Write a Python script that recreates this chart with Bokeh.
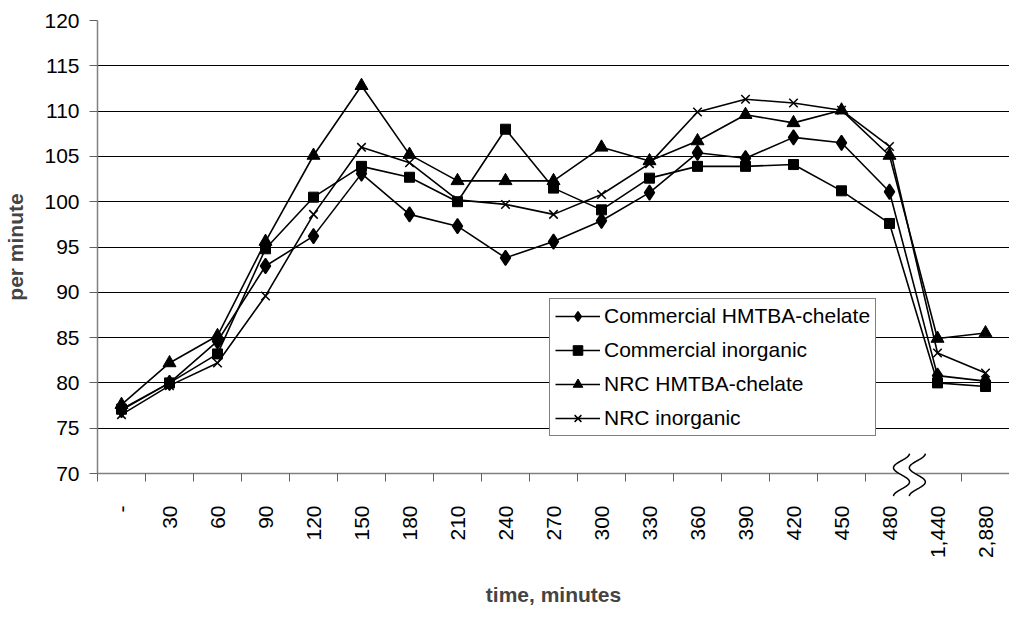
import numpy as np
from bokeh.plotting import figure
from bokeh.models import Range1d, FixedTicker, Legend, LegendItem
from bokeh.embed import file_html
from bokeh.resources import INLINE

# ---------------- data ----------------
categories = ["-", "30", "60", "90", "120", "150", "180", "210", "240", "270",
              "300", "330", "360", "390", "420", "450", "480", "1,440", "2,880"]

commercial_hmtba = [77.0, 80.0, 84.6, 92.9, 96.2, 103.1, 98.6, 97.3, 93.8, 95.6,
                    97.9, 101.0, 105.4, 104.8, 107.1, 106.5, 101.1, 80.8, 80.2]
commercial_inorganic = [77.1, 80.0, 83.2, 94.8, 100.5, 103.9, 102.7, 100.0, 108.0, 101.5,
                        99.1, 102.6, 103.9, 103.9, 104.1, 101.2, 97.6, 80.0, 79.6]
nrc_hmtba = [77.6, 82.2, 85.2, 95.6, 105.1, 112.8, 105.2, 102.3, 102.3, 102.3,
             106.0, 104.5, 106.7, 109.6, 108.7, 110.1, 105.1, 84.9, 85.5]
nrc_inorganic = [76.5, 79.7, 82.2, 89.6, 98.6, 106.0, 104.3, 100.2, 99.7, 98.6,
                 100.8, 104.2, 109.9, 111.3, 110.9, 110.1, 106.1, 83.3, 81.1]

series_names = ["Commercial HMTBA-chelate", "Commercial inorganic",
                "NRC HMTBA-chelate", "NRC inorganic"]
y_ticks = [70, 75, 80, 85, 90, 95, 100, 105, 110, 115, 120]
x_title = "time, minutes"
y_title = "per minute"

# ---------------- figure ----------------
FONT = "Liberation Sans"
n = len(categories)
xs = list(range(n))

p = figure(width=1009, height=610, output_backend="svg", toolbar_location=None,
           x_range=Range1d(-0.5, n - 0.5), y_range=Range1d(70, 120),
           min_border_left=97, min_border_right=0, min_border_top=20,
           min_border_bottom=137, outline_line_color=None,
           background_fill_color="white", border_fill_color="white")

# x axis: labels at category centres, tick marks at category boundaries
break_index = categories.index("480")
boundaries = [i - 0.5 for i in range(n + 1) if i != break_index + 1]
xa = p.xaxis[0]
xa.ticker = FixedTicker(ticks=xs, minor_ticks=boundaries)
xa.major_label_overrides = {i: c for i, c in enumerate(categories)}
xa.major_label_orientation = np.pi / 2
xa.major_tick_line_color = None
xa.major_tick_out = 8
xa.major_tick_in = 0
xa.minor_tick_out = 8
xa.minor_tick_in = 0
xa.minor_tick_line_color = "#606060"
xa.minor_tick_line_width = 1
xa.major_label_standoff = 24
xa.major_label_text_font = FONT
xa.major_label_text_font_size = "21px"
xa.major_label_text_color = "black"
xa.axis_line_color = "#808080"
xa.axis_line_width = 1.5
xa.axis_label = x_title
xa.axis_label_text_font = FONT
xa.axis_label_text_font_size = "21px"
xa.axis_label_text_font_style = "bold"
xa.axis_label_standoff = 22

ya = p.yaxis[0]
ya.ticker = FixedTicker(ticks=y_ticks)
ya.major_tick_out = 8
ya.major_tick_in = 0
ya.minor_tick_line_color = None
ya.major_tick_line_color = "#606060"
ya.major_label_standoff = 10
ya.major_label_text_font = FONT
ya.major_label_text_font_size = "21px"
ya.major_label_text_color = "black"
ya.axis_line_color = "#808080"
ya.axis_line_width = 1.5
ya.axis_label = y_title
ya.axis_label_text_font = FONT
ya.axis_label_text_font_size = "21px"
ya.axis_label_text_font_style = "bold"
ya.axis_label_standoff = 14

p.xgrid.visible = False
p.ygrid.ticker = FixedTicker(ticks=y_ticks)
p.ygrid.grid_line_color = "black"
p.ygrid.grid_line_width = 1

# ---------------- series ----------------
markers = [("diamond", 15), ("square", 10), ("triangle", 13), ("x", 12)]
values = [commercial_hmtba, commercial_inorganic, nrc_hmtba, nrc_inorganic]
items = []
for name, ys, (mk, sz) in zip(series_names, values, markers):
    lr = p.line(xs, ys, line_color="black", line_width=1.6)
    sr = p.scatter(xs, ys, marker=mk, size=sz, fill_color="black",
                   line_color="black", line_width=1.5 if mk in ("x", "diamond") else 1)
    items.append(LegendItem(label=name, renderers=[lr, sr]))

legend = Legend(items=items, location=(452, 37), orientation="vertical",
                border_line_color="black", border_line_width=1,
                background_fill_color="white", background_fill_alpha=1,
                label_text_font=FONT, label_text_font_size="21px",
                label_text_color="black",
                glyph_width=45, glyph_height=24, label_height=24,
                spacing=10, padding=5, margin=0, label_standoff=4)
p.add_layout(legend)

# ---------------- axis break symbol (drawn at overlay level, unclipped) ----------------
t = np.linspace(0, 1, 50)
b = break_index + 0.5
y_top, y_bot = 72.2, 67.5
yy = y_top - t * (y_top - y_bot)
amp = 0.167
c1 = b - 0.25 + amp * np.cos(3 * np.pi * t)
c2 = b + 0.08 + amp * np.cos(3 * np.pi * t)
p.patch(list(c1) + list(c2[::-1]), list(yy) + list(yy[::-1]),
        fill_color="white", line_alpha=0, level="overlay")
p.line(list(c1), list(yy), line_color="black", line_width=1.5, level="overlay")
p.line(list(c2), list(yy), line_color="black", line_width=1.5, level="overlay")

open("out.html", "w").write(file_html(p, INLINE))
